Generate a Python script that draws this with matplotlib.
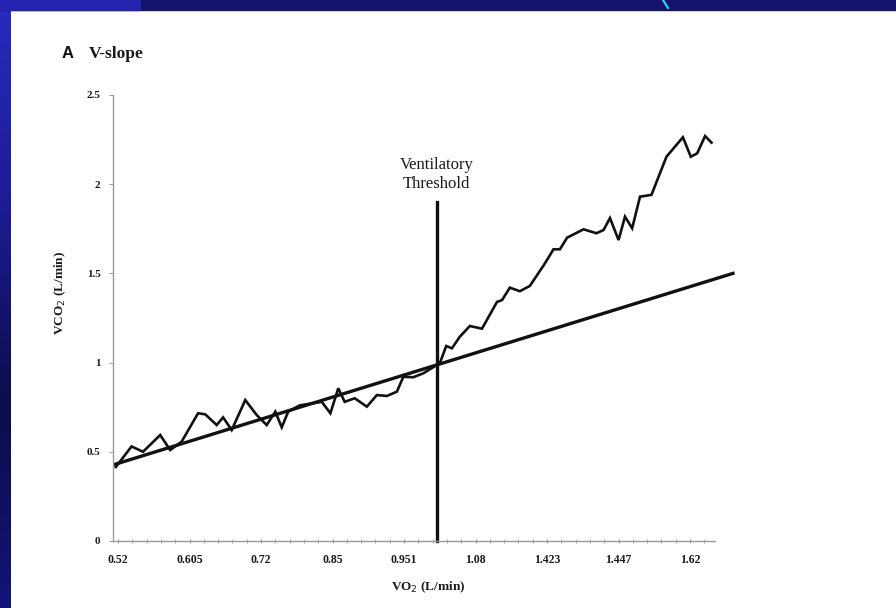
import numpy as np
import matplotlib.pyplot as plt
from matplotlib.patches import Rectangle

# === Data ===
# x axis is categorical: tick labels sit every 10 category steps
x_labels = ["0.52", "0.605", "0.72", "0.85", "0.951", "1.08", "1.423", "1.447", "1.62"]
x_label_pos = [0, 10, 20, 30, 40, 50, 60, 70, 80]

# VCO2 trace, category position -> L/min
vco2_x = [-0.3, 1.9, 3.5, 5.9, 7.3, 8.0, 8.9, 11.2, 12.2, 13.8, 14.7, 15.9, 17.8,
          19.4, 20.8, 22.0, 22.9, 23.8, 25.4, 28.5, 29.7, 30.8, 31.7, 33.1, 34.8,
          36.2, 37.6, 39.0, 39.9, 41.3, 42.7, 44.6, 45.0, 45.9, 46.7, 47.8, 49.2,
          50.9, 53.0, 53.7, 54.8, 56.2, 57.6, 59.7, 60.9, 61.8, 62.8, 65.1, 66.9,
          67.9, 68.8, 70.0, 70.9, 71.9, 73.0, 74.6, 76.7, 79.0, 80.1, 81.0, 82.1, 83.0]
vco2_y = [0.415, 0.53, 0.50, 0.594, 0.51, 0.53, 0.557, 0.716, 0.71, 0.65, 0.693, 0.622, 0.79,
          0.706, 0.65, 0.725, 0.637, 0.725, 0.76, 0.78, 0.716, 0.856, 0.78, 0.80, 0.753,
          0.818, 0.813, 0.837, 0.92, 0.918, 0.94, 0.987, 0.996, 1.093, 1.08, 1.145, 1.205,
          1.19, 1.34, 1.35, 1.42, 1.40, 1.43, 1.556, 1.635, 1.635, 1.70, 1.747, 1.725,
          1.743, 1.81, 1.687, 1.818, 1.753, 1.93, 1.94, 2.154, 2.263, 2.154, 2.173, 2.27, 2.233]

# regression line through the lower part
reg_x = [-0.4, 86.0]
reg_y = [0.43, 1.50]

# ventilatory threshold
vt_x = 44.6
vt_top = 1.9

# === Figure ===
fig = plt.figure(figsize=(8.96, 6.08), dpi=100)
fig.patch.set_facecolor("white")

# slide border: blue strip on the left, navy band on top
bg = fig.add_axes([0, 0, 1, 1], zorder=-10)
bg.set_xlim(0, 896)
bg.set_ylim(608, 0)
bg.axis("off")
grad = np.linspace(0, 1, 256).reshape(-1, 1)
bg.imshow(grad, cmap=plt.matplotlib.colors.LinearSegmentedColormap.from_list(
    "strip", ["#2a2abd", "#1c1c96", "#0c0c4a", "#14147a"]),
    extent=[0, 11, 608, 0], aspect="auto")
bg.add_patch(Rectangle((0, 0), 896, 10, color="#14146e"))
bg.add_patch(Rectangle((0, 0), 140, 10, color="#2424b0"))
bg.plot([663, 668], [0, 8], color="#22e0f0", lw=1.5)

ax = fig.add_axes([0.1261, 0.1102, 0.672, 0.7336])
serif = "Liberation Serif"

ax.plot(vco2_x, vco2_y, color="#111111", lw=1.9, solid_joinstyle="miter", clip_on=False)
ax.plot(reg_x, reg_y, color="#111111", lw=2.4, clip_on=False)
ax.plot([vt_x, vt_x], [0, vt_top], color="#111111", lw=2.4, clip_on=False)

ax.text(vt_x, 2.055, "Ventilatory\nThreshold", ha="center", va="center",
        fontsize=12, family=serif, linespacing=1.2, color="#1a1a1a")

ax.set_xlim(-0.7, 83.5)
ax.set_ylim(0, 2.5)
ax.set_yticks([0, 0.5, 1, 1.5, 2, 2.5])
ax.set_yticklabels(["0", "0.5", "1", "1.5", "2", "2.5"])
ax.set_xticks(x_label_pos)
ax.set_xticklabels(x_labels)
ax.set_xticks(np.arange(0, 84, 2), minor=True)

for s in ["top", "right"]:
    ax.spines[s].set_visible(False)
for s in ["left", "bottom"]:
    ax.spines[s].set_color("#9a9a9a")
    ax.spines[s].set_linewidth(1.0)

ax.tick_params(axis="y", direction="out", length=3, color="#9a9a9a", pad=6)
ax.tick_params(axis="x", which="both", direction="inout", length=3, color="#9a9a9a", pad=8)
for lab in ax.get_xticklabels():
    lab.set_family(serif)
    lab.set_fontweight("bold")
    lab.set_fontsize(8.5)
    lab.set_color("#1a1a1a")
for lab in ax.get_yticklabels():
    lab.set_family(serif)
    lab.set_fontweight("bold")
    lab.set_fontsize(8)
    lab.set_color("#1a1a1a")

ax.set_ylabel("VCO$_2$ (L/min)", family=serif, fontweight="bold", fontsize=9.5, color="#1a1a1a")
ax.yaxis.set_label_coords(-0.075, 0.556)
ax.set_xlabel("VO$_2$ (L/min)", family=serif, fontweight="bold", fontsize=9.5, color="#1a1a1a")
ax.xaxis.set_label_coords(0.523, -0.087)

fig.text(62 / 896, 1 - 54 / 608, "A", fontsize=12, fontweight="bold",
         family="Liberation Sans", va="center", color="#111111")
fig.text(89 / 896, 1 - 54 / 608, "V-slope", fontsize=12.5, fontweight="bold",
         family=serif, va="center", color="#1a1a1a")

fig.savefig("out.png", dpi=100)
